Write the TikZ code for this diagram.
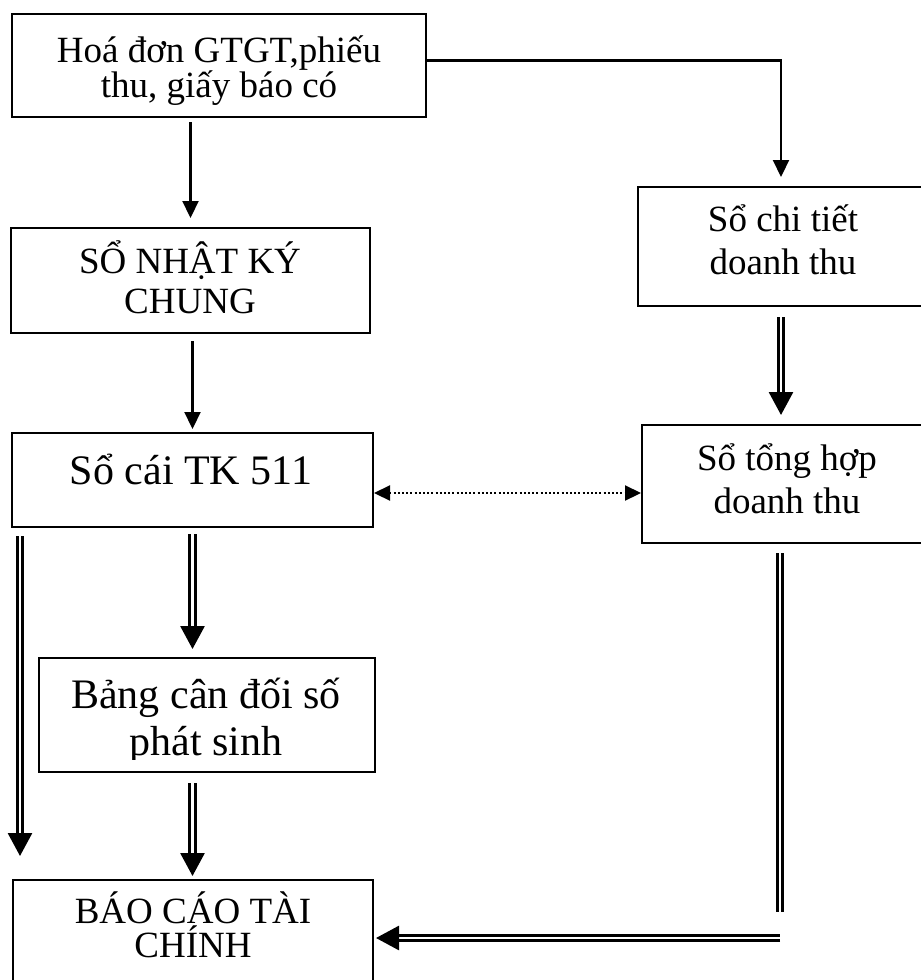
\documentclass[tikz,border=0pt]{standalone}
\usepackage{fontspec}
\setmainfont{Liberation Serif}
\usetikzlibrary{arrows.meta}

\begin{document}
\begin{tikzpicture}[x=1pt,y=-1pt,
  box/.style={draw, line width=2pt, rectangle, inner sep=0pt},
  lbl/.style={anchor=base, inner sep=0pt},
  fA/.style={font=\fontsize{37}{40}\selectfont},
  fB/.style={font=\fontsize{42}{46}\selectfont},
  arr/.style={line width=2.2pt, -{Triangle[length=17pt,width=16pt]}},
  dbl/.style={double, line width=2.8pt, double distance=2.5pt},
  dblarr/.style={dbl, -{Triangle[length=23pt,width=24pt]}},
  dotarr/.style={line width=2.2pt, dash pattern=on 2pt off 2.2pt,
    {Triangle[length=16pt,width=15pt]}-{Triangle[length=16pt,width=15pt]}},
]
\useasboundingbox (0,0) rectangle (921,980);
\clip (0,0) rectangle (921,980);

% boxes
\node[box, minimum width=414pt, minimum height=103pt] (b1) at (219,65.5) {};
\node[box, minimum width=359pt, minimum height=105pt] (b2) at (190.5,280.5) {};
\node[box, minimum width=286pt, minimum height=119pt] (b3) at (781,246.5) {};
\node[box, minimum width=282pt, minimum height=118pt] (b4) at (783,484) {};
\node[box, minimum width=361pt, minimum height=94pt]  (b5) at (192.5,480) {};
\node[box, minimum width=336pt, minimum height=114pt] (b6) at (207,715) {};
\node[box, minimum width=360pt, minimum height=116pt] (b7) at (193,938) {};

% box texts
\node[lbl, fA] (t1a) at (219,62)  {Hoá đơn GTGT,phiếu};
\node[lbl, fA] (t1b) at (219,97)  {thu, giấy báo có};
\node[lbl, fA] (t2a) at (190,273) {SỔ NHẬT KÝ};
\node[lbl, fA] (t2b) at (190,313) {CHUNG};
\node[lbl, fA] (t3a) at (783,231) {Sổ chi tiết};
\node[lbl, fA] (t3b) at (783,274) {doanh thu};
\node[lbl, fA] (t4a) at (787,470) {Sổ tổng hợp};
\node[lbl, fA] (t4b) at (787,513) {doanh thu};
\node[lbl, fB] (t5)  at (191,484) {Sổ cái TK 511};
\begin{scope}
  \clip (39,658) rectangle (375,759);
  \node[lbl, fB] (t6a) at (206,708) {Bảng cân đối số};
  \node[lbl, fB] (t6b) at (206,755) {phát sinh};
\end{scope}
\node[lbl, fA] (t7a) at (193,923) {BÁO CÁO TÀI};
\node[lbl, fA] (t7b) at (193,957) {CHÍNH};

% single arrows
\draw[arr, shorten <=4pt, shorten >=9pt] (b2.north |- b1.south) -- (b2.north);
\draw[arr, shorten >=9pt] ([yshift=5pt]b1.east) -| (b3.north);
\draw[arr, shorten <=7pt, shorten >=3pt] (b2.south -| b5.north) -- (b5.north);

% dotted two-way link
\draw[dotarr] ([yshift=-13pt]b5.east) -- ([yshift=-13pt]b5.east -| b4.west);

% double arrows
\draw[dblarr, shorten <=10pt, shorten >=9pt] (b3.south) -- (b3.south |- b4.north);
\draw[dblarr, shorten <=8pt, shorten >=23pt] ([xshift=9pt]b5.south west) -- ([xshift=9pt]b5.south west |- b7.north);
\draw[dblarr, shorten <=6pt, shorten >=8pt] (b5.south) -- (b5.south |- b6.north);
\draw[dblarr, shorten <=10pt, shorten >=3pt] (b5.south |- b6.south) -- (b5.south |- b7.north);

% return path to the report box
\coordinate (c1) at (780,912);
\coordinate (c2) at (780,938);
\draw[dbl, shorten <=9pt] (b4.south -| c1) -- (c1);
\draw[dblarr, shorten >=2pt] (c2) -- (b7.east);
\end{tikzpicture}
\end{document}
